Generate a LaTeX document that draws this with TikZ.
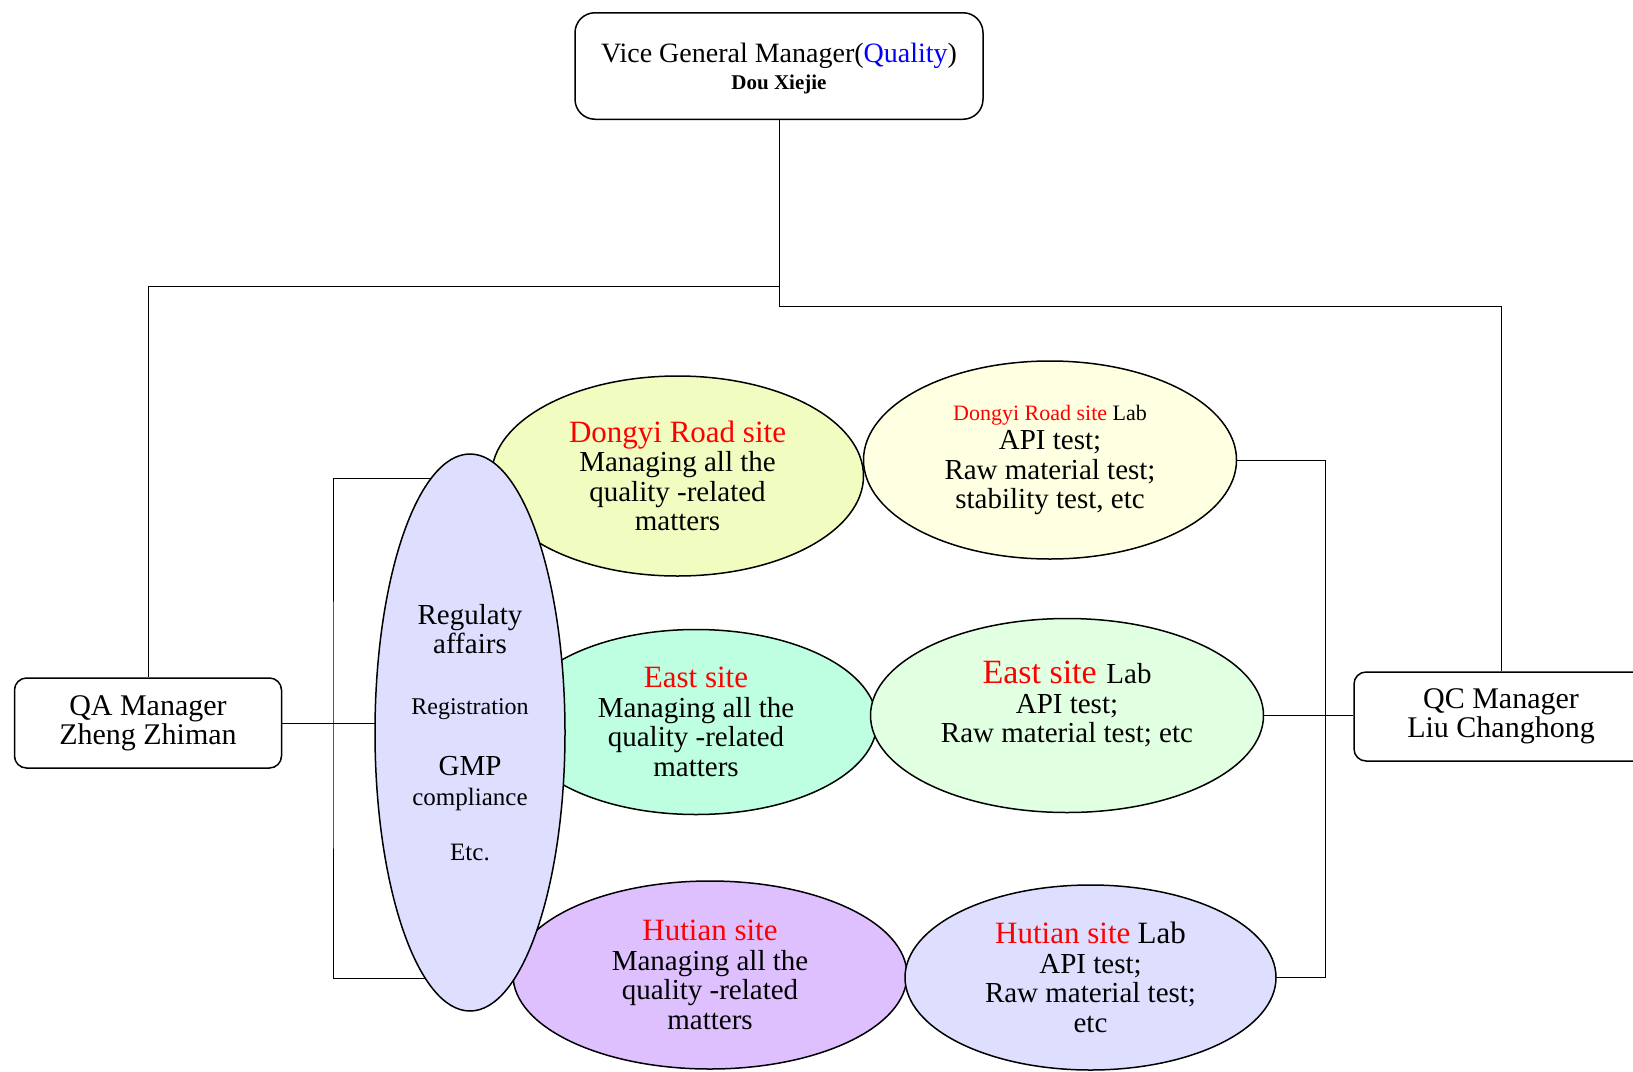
\documentclass[tikz,border=0pt]{standalone}
\usepackage{fontspec}
\setmainfont{Liberation Serif}
\usepackage{xcolor}
\usetikzlibrary{shapes.geometric, backgrounds}

\definecolor{dyfill}{RGB}{240,252,192}
\definecolor{dylfill}{RGB}{255,255,225}
\definecolor{esfill}{RGB}{190,255,225}
\definecolor{eslfill}{RGB}{225,255,225}
\definecolor{htfill}{RGB}{222,192,255}
\definecolor{htlfill}{RGB}{222,222,255}
\definecolor{rafill}{RGB}{222,222,255}

\newcommand{\sitename}[1]{{\color{red}\fontsize{15.5}{14.75}\selectfont #1}}

\begin{document}
\begin{tikzpicture}[
                x=0.5pt, y=-0.5pt,
                line width=0.75pt,
                site/.style={ellipse, draw, inner sep=0pt, align=center, font=\fontsize{14.5}{14.75}\selectfont},
                mgr/.style={rectangle, draw, fill=white, rounded corners=6pt, inner sep=0pt, align=center, font=\fontsize{15}{14.5}\selectfont}
            ]
                \useasboundingbox (0,0) rectangle (1633,1071);

                % Managers
                \node[mgr, rounded corners=10pt, minimum width=204pt, minimum height=53.25pt, text depth=0pt,
                      font=\fontsize{14}{13.5}\selectfont] (VGM) at (779,66)
                    {Vice General Manager(\textcolor{blue}{Quality})\\{\bfseries\fontsize{10.5}{13.5}\selectfont Dou Xiejie}};
                \node[mgr, minimum width=133.5pt, minimum height=45pt] (QA) at (148,723) {QA Manager\\Zheng Zhiman};
                \node[mgr, minimum width=147pt, minimum height=44.5pt] (QC) at (1501,716.5) {QC Manager\\Liu Changhong};

                % Sites
                \node[site, fill=dyfill, minimum width=186pt, minimum height=100pt] (DY) at (677.5,476)
                    {\sitename{Dongyi Road site}\\Managing all the\\quality -related\\matters};
                \node[site, fill=dylfill, minimum width=186.5pt, minimum height=99pt] (DYL) at (1050,460)
                    {{\fontsize{11}{14.75}\selectfont\textcolor{red}{Dongyi Road site} Lab}\\API test;\\Raw material test;\\stability test, etc};
                \node[site, fill=esfill, minimum width=181pt, minimum height=92.5pt] (ES) at (696,722)
                    {\sitename{East site}\\Managing all the\\quality -related\\matters};
                \node[site, fill=eslfill, minimum width=196.5pt, minimum height=97pt, text depth=13.5pt] (ESL) at (1067,715.5)
                    {{\fontsize{17}{14.75}\selectfont\textcolor{red}{East site}}\,\,Lab\\API test;\\Raw material test; etc};
                \node[site, fill=htfill, minimum width=197pt, minimum height=94pt] (HT) at (710,975)
                    {\sitename{Hutian site}\\Managing all the\\quality -related\\matters};
                \node[site, fill=htlfill, minimum width=185.5pt, minimum height=92.5pt] (HTL) at (1090.5,977.5)
                    {\sitename{Hutian site} {\fontsize{15.5}{14.75}\selectfont Lab}\\API test;\\Raw material test;\\etc};

                % Regulatory affairs
                \node[site, fill=rafill, minimum width=95pt, minimum height=278.5pt] (RA) at (470,732.5)
                    {Regulaty\\affairs\\[15.75pt]{\fontsize{12}{14.75}\selectfont Registration}\\[15.75pt]GMP\\{\fontsize{12.5}{14.75}\selectfont compliance}\\[12.75pt]{\fontsize{12.5}{14.75}\selectfont Etc.}};

                % Joints
                \coordinate (vgmSplit) at (779,286);
                \coordinate (vgmTurn) at (779,306);
                \coordinate (qaJoin) at (333,722);
                \coordinate (qcJoin) at (1325,716);

                % Edges
                \begin{scope}[on background layer]
                    \draw (VGM.south) -- (vgmTurn) -| (QC.north);
                    \draw (vgmSplit) -| (QA.north);
                    \draw (QA.east) -- (RA.center |- QA.east);
                    \draw (RA.center |- 0,478) -| (qaJoin) |- (RA.center |- 0,978);
                    \draw (DYL.east) -| (qcJoin) |- (HTL.east);
                    \draw (ESL.east) -- (ESL.east -| QC.west);
                \end{scope}
            \end{tikzpicture}
\end{document}
